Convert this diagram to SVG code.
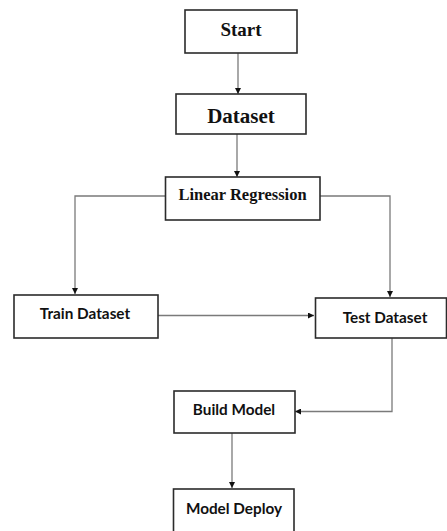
<svg xmlns="http://www.w3.org/2000/svg" width="447" height="531" viewBox="0 0 447 531">
<style>
.box{fill:#fff;stroke:#2b2b2b;stroke-width:1.6}
.serif{font-family:"Liberation Serif","Times New Roman",serif;font-weight:bold;fill:#111;text-anchor:middle}
.sans{font-family:Lato,"Open Sans","Liberation Sans",sans-serif;font-weight:bold;fill:#111;text-anchor:middle;font-size:15.3px}
.conn{fill:none;stroke:#7a7a7a;stroke-width:1.3}
</style>
<defs>
<marker id="arr" viewBox="0 0 10 10" refX="10" refY="5" markerWidth="6" markerHeight="6" markerUnits="userSpaceOnUse" orient="auto">
<path d="M0,0 L10,5 L0,10 Z" fill="#111"/>
</marker>
</defs>
<rect width="447" height="531" fill="#fff"/>
<g id="connectors">
<path class="conn" d="M238,53 V94" marker-end="url(#arr)"/>
<path class="conn" d="M237,134 V177" marker-end="url(#arr)"/>
<path class="conn" d="M165,196 H75 V294" marker-end="url(#arr)"/>
<path class="conn" d="M320,196 H390 V297" marker-end="url(#arr)"/>
<path class="conn" d="M158,315.5 H314" marker-end="url(#arr)"/>
<path class="conn" d="M392,338 V411.5 H295" marker-end="url(#arr)"/>
<path class="conn" d="M232,433 V488" marker-end="url(#arr)"/>
</g>
<g id="start"><rect class="box" x="185" y="10" width="112" height="43"/><text class="serif" x="241" y="36" font-size="19">Start</text></g>
<g id="dataset"><rect class="box" x="176" y="94" width="130" height="40"/><text class="serif" x="241" y="123" font-size="21">Dataset</text></g>
<g id="linear-regression"><rect class="box" x="165.5" y="177" width="154.5" height="43"/><text class="serif" x="242.5" y="200" font-size="16.5">Linear Regression</text></g>
<g id="train-dataset"><rect class="box" x="14" y="295" width="144" height="43"/><text class="sans" x="85" y="319">Train Dataset</text></g>
<g id="test-dataset"><rect class="box" x="315.5" y="298" width="131" height="40"/><text class="sans" x="385" y="323">Test Dataset</text></g>
<g id="build-model"><rect class="box" x="174" y="391" width="121" height="42"/><text class="sans" x="234" y="414.5">Build Model</text></g>
<g id="model-deploy"><rect class="box" x="173.5" y="489" width="120.5" height="50"/><text class="sans" x="234" y="514">Model Deploy</text></g>
</svg>
